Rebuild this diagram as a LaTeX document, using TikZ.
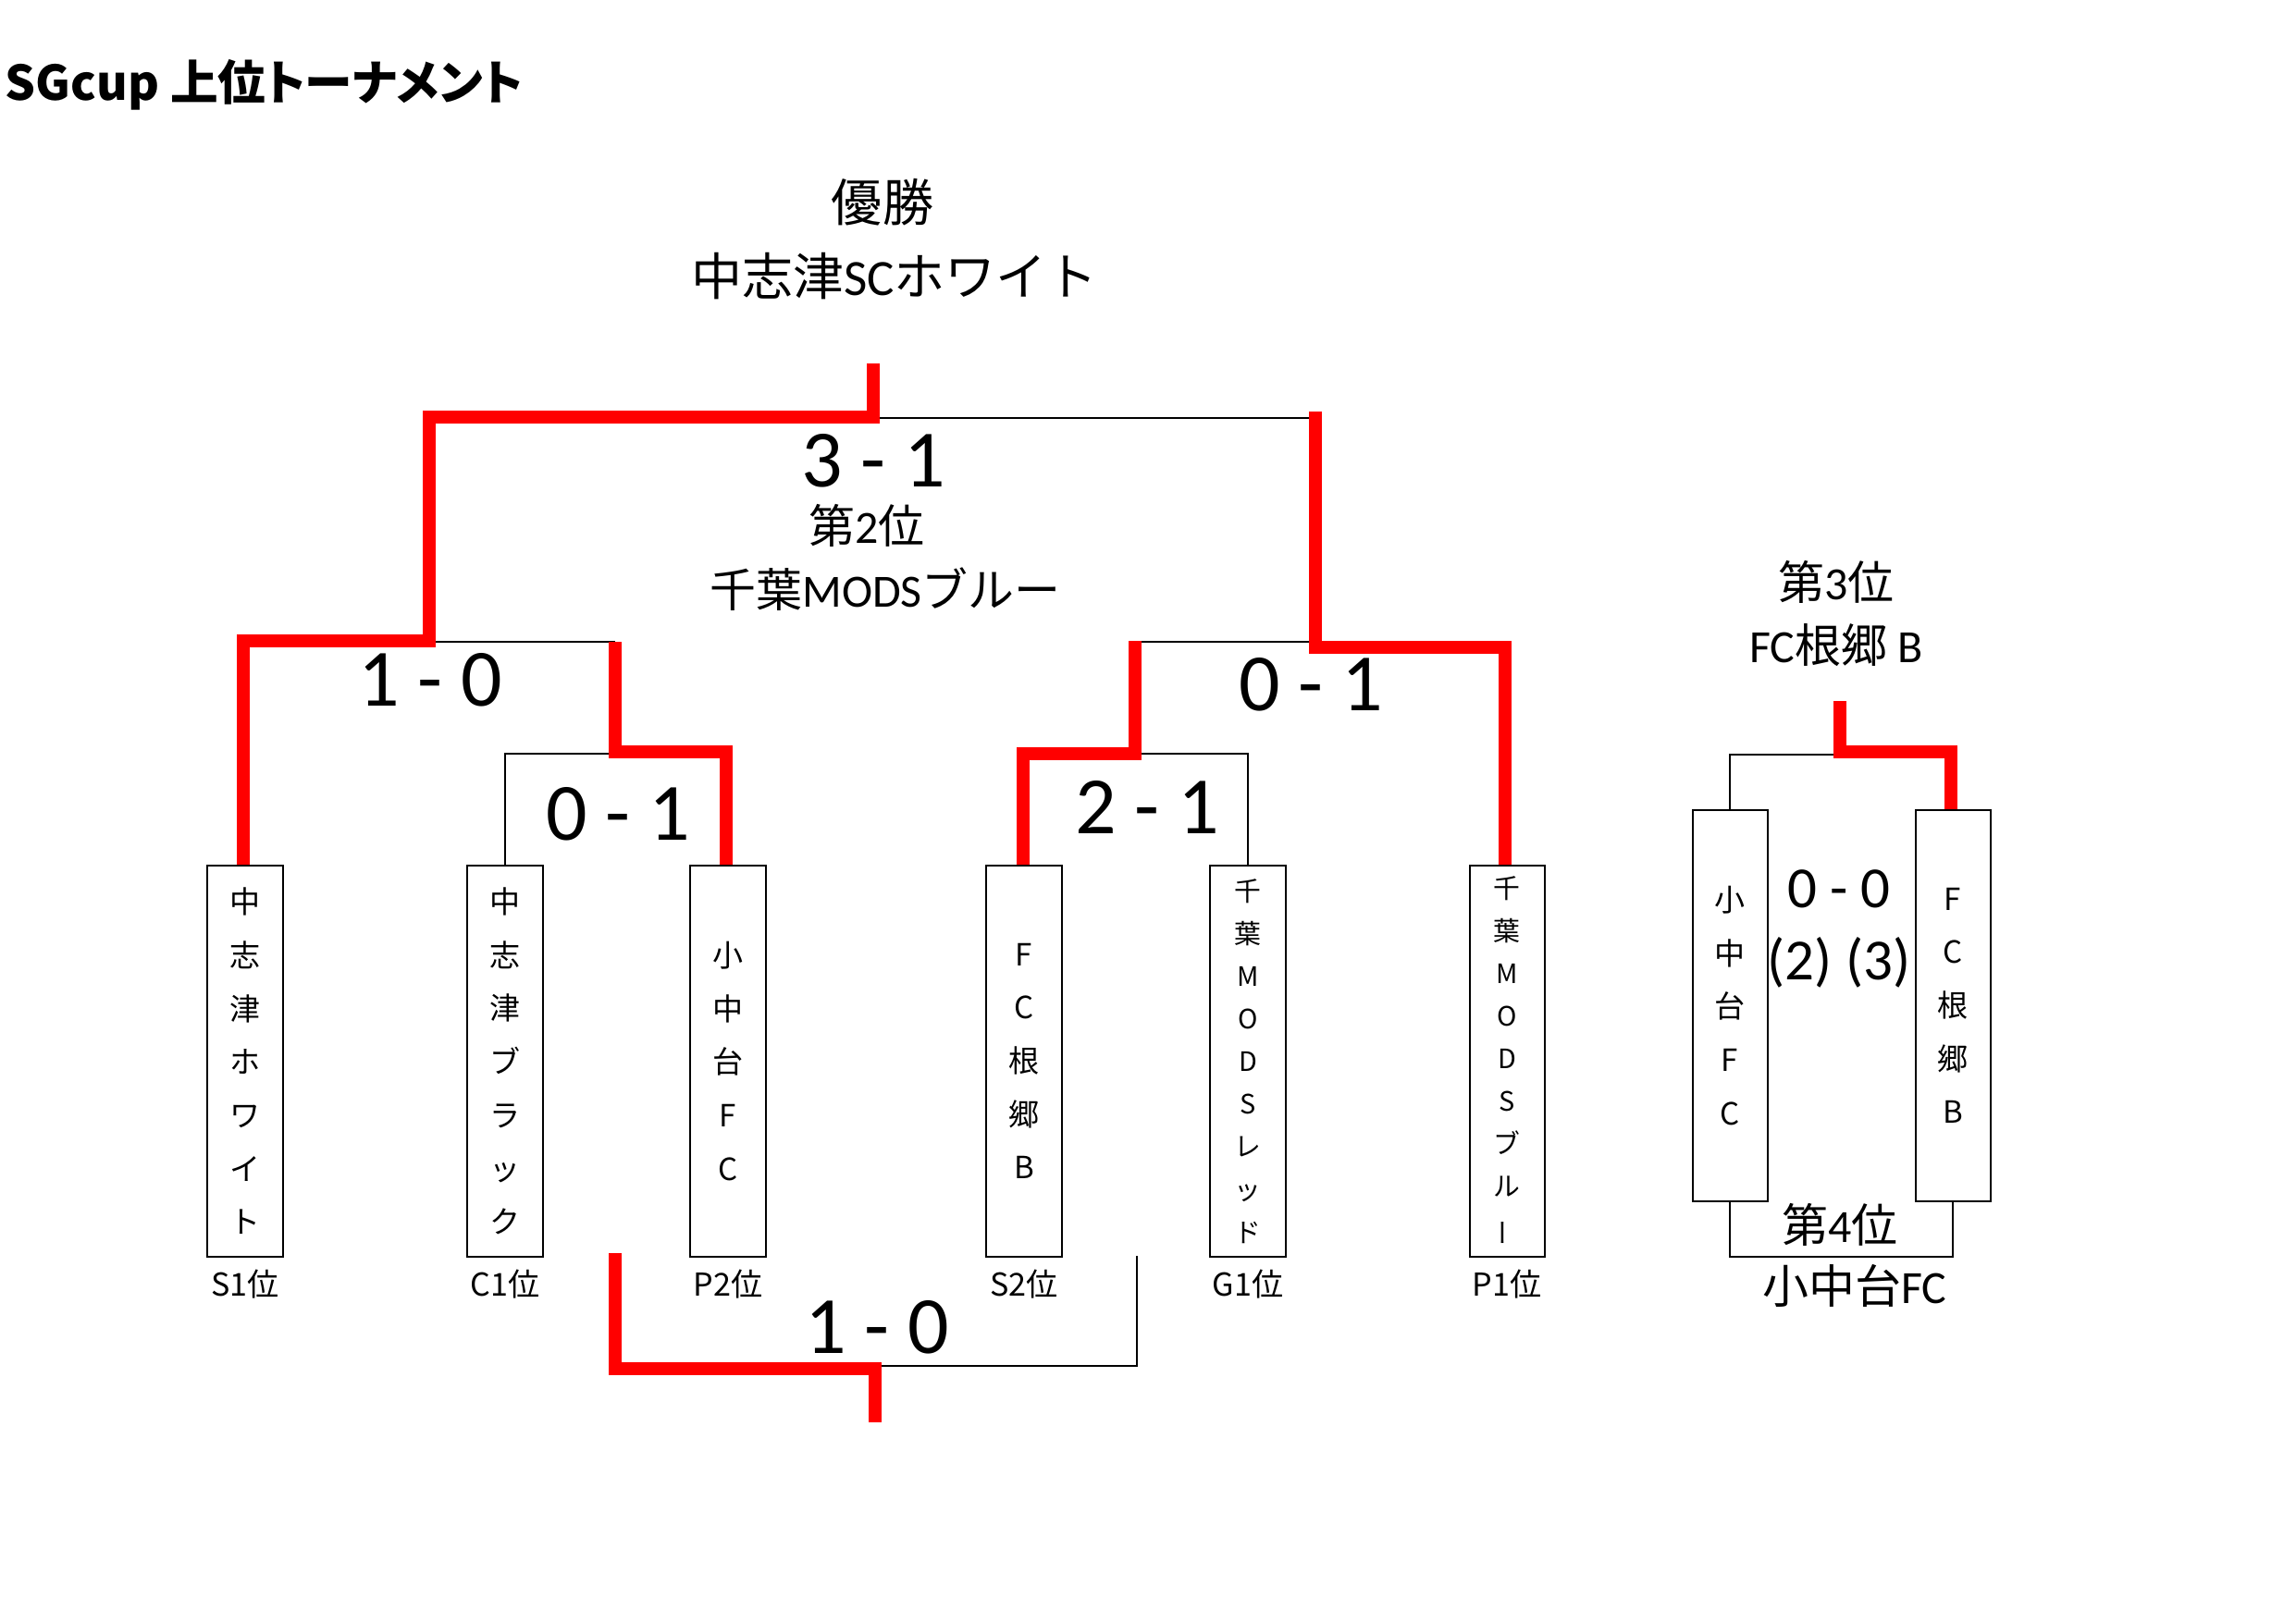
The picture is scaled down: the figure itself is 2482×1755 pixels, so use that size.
\documentclass[tikz,border=0pt]{standalone}
\usepackage{fontspec}
\usepackage{graphicx}
\setmainfont{Carlito}
\newfontfamily\jp{Noto Sans CJK JP}
\newfontfamily\jpt{Noto Sans CJK JP}[RawFeature=+palt]
\definecolor{wred}{RGB}{255,0,0}
\begin{document}
\begin{tikzpicture}[x=0.01cm,y=-0.01cm,
  team/.style={draw, line width=0.02cm, minimum width=0.81cm, minimum height=4.23cm,
    inner sep=0pt, align=center, font=\jp\fontsize{9.4pt}{16.4pt}\selectfont},
  teamlong/.style={team, font=\jp\fontsize{8.2pt}{13.1pt}\selectfont},
  big/.style={inner sep=0pt, font=\fontsize{25pt}{30pt}\selectfont},
  small/.style={inner sep=0pt, font=\fontsize{17.9pt}{21pt}\selectfont},
  mid/.style={inner sep=0pt, font=\fontsize{14.2pt}{17pt}\selectfont},
  head/.style={inner sep=0pt, font=\fontsize{15.65pt}{19pt}\selectfont},
  lab/.style={inner sep=0pt, font=\jp\fontsize{9.7pt}{12pt}\selectfont},
  thin/.style={draw=black, line width=0.02cm},
  winline/.style={draw=wred, line width=0.14cm, line join=miter}
]
\useasboundingbox (0,0) rectangle (2482,1755);

% title
\node[inner sep=0pt, anchor=base west, font=\jpt\bfseries\fontsize{14.7pt}{18pt}\selectfont] (title) at (5,109) {SGcup 上位トーナメント};

% team boxes
\node[team] (b1) at (265,1147.5) {中\\志\\津\\ホ\\ワ\\イ\\ト};
\node[team] (b2) at (546,1147.5) {中\\志\\津\\ブ\\ラ\\ッ\\ク};
\node[team] (b3) at (787,1147.5) {小\\中\\台\\F\\C};
\node[team] (b4) at (1107,1147.5) {F\\C\\根\\郷\\B};
\node[teamlong] (b5) at (1349,1147.5) {千\\葉\\M\\O\\D\\S\\レ\\ッ\\ド};
\node[teamlong] (b6) at (1629,1147.5) {千\\葉\\M\\O\\D\\S\\ブ\\ル\\\rotatebox[origin=c]{90}{ー}};
\node[team] (b7) at (1870,1087.5) {小\\中\\台\\F\\C};
\node[team] (b8) at (2111,1087.5) {F\\C\\根\\郷\\B};

% seed labels
\node[lab] (l1) at (265,1389) {S1位};
\node[lab] (l2) at (546,1389) {C1位};
\node[lab] (l3) at (787,1389) {P2位};
\node[lab] (l4) at (1107,1389) {S2位};
\node[lab] (l5) at (1349,1389) {G1位};
\node[lab] (l6) at (1629,1389) {P1位};

% result texts
\node[head] (wtitle) at (954,219) {\jp 優勝};
\node[head] (wname) at (967,299) {{\jp 中志津}SC{\jp ホワイト}};
\node[big] (final) at (944,498) {3 - 1};
\node[mid] (stitle) at (937,568) {{\jp 第}2{\jp 位}};
\node[mid] (sname) at (957,637) {{\jp 千葉}MODS{\jp ブルー}};
\node[big] (sf1) at (465,735) {1 - 0};
\node[big] (qf1) at (668,880) {0 - 1};
\node[big] (sf2) at (1417,740) {0 - 1};
\node[big] (qf2) at (1240,873) {2 - 1};
\node[big] (cons) at (948,1435) {1 - 0};
\node[mid] (ttitle) at (1985,629) {{\jp 第}3{\jp 位}};
\node[mid] (tname) at (1985,698) {FC{\jp 根郷} B};
\node[small] (tp) at (1988,961) {0 - 0};
\node[small] (pk) at (1988,1041) {(2) (3)};
\node[mid] (ftitle) at (1989,1324) {{\jp 第}4{\jp 位}};
\node[mid] (fname) at (2005,1390) {{\jp 小中台}FC};

% free ends
\coordinate (champ) at (944,393);
\coordinate (consend) at (946,1538);
\coordinate (thirdtop) at (1989,758);

% losing (black) lines
\draw[thin] (944,452) -- (1422,452);
\draw[thin] (464,694) -- (665,694);
\draw[thin] (b2.north) -- (546,815) -- (665,815);
\draw[thin] (1227,694) -- (1422,694);
\draw[thin] (1227,815) -- (1349,815) -- (b5.north);
\draw[thin] (946,1477) -- (1229,1477) -- (1229,1358);
\draw[thin] (b7.north) -- (1870,816) -- (1989,816);
\draw[thin] (b7.south) -- (1870,1359) -- (2111,1359) -- (b8.south);

% winning (red) lines
\draw[winline] (champ) -- (944,451) -- (464,451) -- (464,693) -- (263,693) -- (b1.north -| 263,0);
\draw[winline] (1422,445) -- (1422,700) -- (1627,700) -- (b6.north -| 1627,0);
\draw[winline] (665,694) -- (665,813) -- (785,813) -- (b3.north -| 785,0);
\draw[winline] (1227,693) -- (1227,815) -- (1106,815) -- (b4.north -| 1106,0);
\draw[winline] (665,1355) -- (665,1480) -- (946,1480) -- (consend);
\draw[winline] (thirdtop) -- (1989,813) -- (2109,813) -- (b8.north -| 2109,0);
\end{tikzpicture}
\end{document}
